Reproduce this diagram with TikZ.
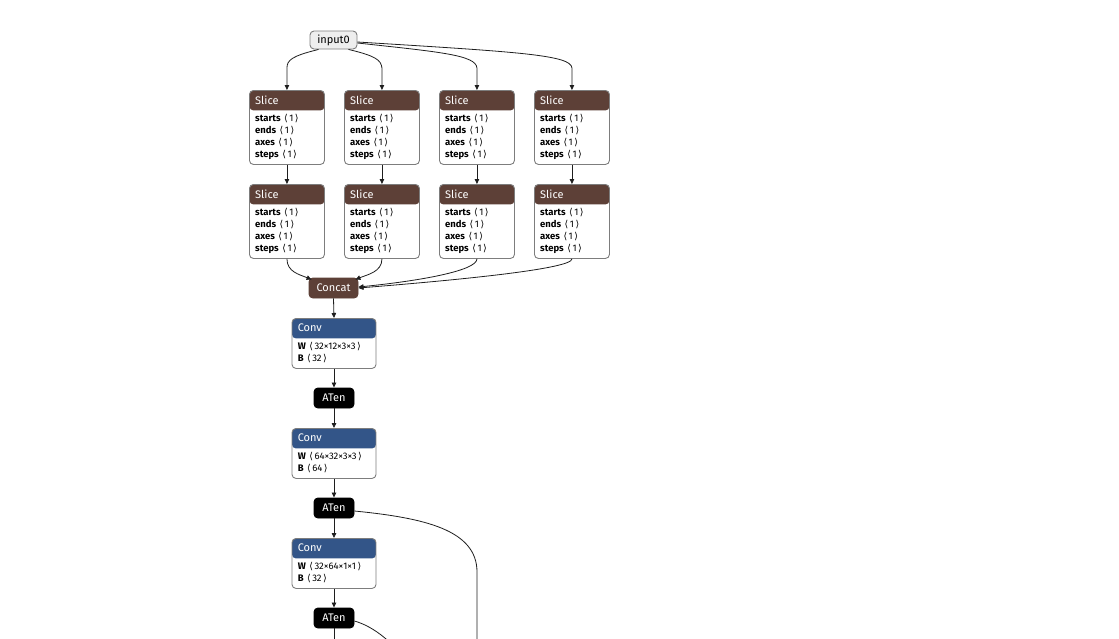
\documentclass[tikz,border=0pt]{standalone}
\usepackage{fontspec}
\setmainfont{Fira Sans}
\newfontfamily\symfont{DejaVu Sans}
\usepackage{tikz}
\usetikzlibrary{positioning, arrows.meta}

\definecolor{tensorcol}{RGB}{93,64,55}
\definecolor{layercol}{RGB}{51,85,136}
\definecolor{bordercol}{RGB}{125,125,125}
\definecolor{inputcol}{RGB}{238,238,238}
\definecolor{edgecol}{RGB}{30,30,30}

% shape brackets
\newcommand{\shp}[1]{\ \kern1pt{\symfont\char"27E8}\kern1.5pt#1\kern1.5pt{\symfont\char"27E9}}

\begin{document}
\begin{tikzpicture}[x=1pt,y=-1pt]
  \tikzstyle{box}=[draw=bordercol, line width=0.9pt, rounded corners=4pt, fill=white, inner sep=0pt]
  \tikzstyle{slicebox}=[box, anchor=north west, minimum width=75pt, minimum height=74pt,
    path picture={\fill[tensorcol] (path picture bounding box.north west) rectangle ([yshift=-20pt]path picture bounding box.north east);}]
  \tikzstyle{convbox}=[box, anchor=north, minimum width=84pt, minimum height=50pt,
    path picture={\fill[layercol] (path picture bounding box.north west) rectangle ([yshift=-20pt]path picture bounding box.north east);}]
  \tikzstyle{headtext}=[anchor=west, inner sep=0pt, text=white, font=\fontsize{11}{13}\selectfont]
  \tikzstyle{attrtext}=[anchor=north west, inner sep=0pt, align=left, font=\fontsize{9.5}{12}\selectfont]
  \tikzstyle{small}=[box, rounded corners=4pt, minimum height=20pt, text=white, font=\fontsize{11}{13}\selectfont]
  \tikzstyle{arr}=[-{Triangle[length=5pt,width=4.5pt]}, line width=0.8pt, draw=edgecol]

  \useasboundingbox (0,0) rectangle (1119,638);

  % input
  \node[box, fill=inputcol, minimum width=47pt, minimum height=18pt, font=\fontsize{11}{13}\selectfont] (in0) at (333.5,40) {input0};

  % two rows of Slice
  \foreach \i/\x in {1/249, 2/344, 3/439, 4/534} {
    \node[slicebox] (s\i) at (\x,90) {};
    \node[headtext] at ([xshift=6pt,yshift=-10pt]s\i.north west) {Slice};
    \node[attrtext] at ([xshift=6pt,yshift=-24pt]s\i.north west)
      {\textbf{starts}\shp{1}\\\textbf{ends}\shp{1}\\\textbf{axes}\shp{1}\\\textbf{steps}\shp{1}};
    \node[slicebox] (t\i) at (\x,184) {};
    \node[headtext] at ([xshift=6pt,yshift=-10pt]t\i.north west) {Slice};
    \node[attrtext] at ([xshift=6pt,yshift=-24pt]t\i.north west)
      {\textbf{starts}\shp{1}\\\textbf{ends}\shp{1}\\\textbf{axes}\shp{1}\\\textbf{steps}\shp{1}};
    \draw[arr] (s\i.south) -- (t\i.north);
  }

  \node[small, fill=tensorcol, draw=tensorcol, minimum width=49pt] (cc) at (333.5,288) {Concat};

  % conv / aten chain
  \node[convbox] (c1) at (334,318) {};
  \node[headtext] at ([xshift=6pt,yshift=-10pt]c1.north west) {Conv};
  \node[attrtext] at ([xshift=6pt,yshift=-24pt]c1.north west)
    {\textbf{W}\shp{32×12×3×3}\\\textbf{B}\shp{32}};
  \node[small, fill=black, draw=black, minimum width=40pt] (a1) at (334,398) {ATen};

  \node[convbox] (c2) at (334,428) {};
  \node[headtext] at ([xshift=6pt,yshift=-10pt]c2.north west) {Conv};
  \node[attrtext] at ([xshift=6pt,yshift=-24pt]c2.north west)
    {\textbf{W}\shp{64×32×3×3}\\\textbf{B}\shp{64}};
  \node[small, fill=black, draw=black, minimum width=40pt] (a2) at (334,508) {ATen};

  \node[convbox] (c3) at (334,538) {};
  \node[headtext] at ([xshift=6pt,yshift=-10pt]c3.north west) {Conv};
  \node[attrtext] at ([xshift=6pt,yshift=-24pt]c3.north west)
    {\textbf{W}\shp{32×64×1×1}\\\textbf{B}\shp{32}};
  \node[small, fill=black, draw=black, minimum width=40pt] (a3) at (334,618) {ATen};

  \coordinate (o1) at (334,660);
  \coordinate (o2) at (477,680);
  \coordinate (o3) at (425,690);

  % edges from input0
  \draw[arr] ([xshift=-15pt]in0.south) .. controls (292,56) and (287,60) .. ([yshift=22pt]s1.north) -- (s1.north);
  \draw[arr] ([xshift=15pt]in0.south) .. controls (376,56) and (381,60) .. ([yshift=22pt]s2.north) -- (s2.north);
  \draw[arr] ([yshift=-3pt]in0.east) .. controls (440,52) and (476,55) .. ([yshift=22pt]s3.north) -- (s3.north);
  \draw[arr] ([yshift=-2pt]in0.east) .. controls (520,52) and (571,55) .. ([yshift=22pt]s4.north) -- (s4.north);

  % into Concat
  \draw[arr] (t1.south) .. controls +(0,13) and +(-12,-5) .. ([xshift=3pt,yshift=-2pt]cc.north west);
  \draw[arr] (t2.south) .. controls +(0,13) and +(12,-5) .. ([xshift=-3pt,yshift=-2pt]cc.north east);
  \draw[arr] (t3.south) .. controls +(0,12) and +(60,-6) .. ([yshift=1pt]cc.east);
  \draw[arr] (t4.south) .. controls +(0,10) and +(100,-8) .. (cc.east);

  \draw[arr] (cc.south) -- (c1.north);
  \draw[arr] (c1.south) -- (a1.north);
  \draw[arr] (a1.south) -- (c2.north);
  \draw[arr] (c2.south) -- (a2.north);
  \draw[arr] (a2.south) -- (c3.north);
  \draw[arr] (c3.south) -- (a3.north);
  \draw[arr] (a3.south) -- (o1);
  \draw[arr] ([yshift=-3pt]a2.east) .. controls (425,518) and (477,530) .. (477,572) -- (o2);
  \draw[arr] ([yshift=-3pt]a3.east) .. controls (372,626) and (398,642) .. (o3);
\end{tikzpicture}
\end{document}
